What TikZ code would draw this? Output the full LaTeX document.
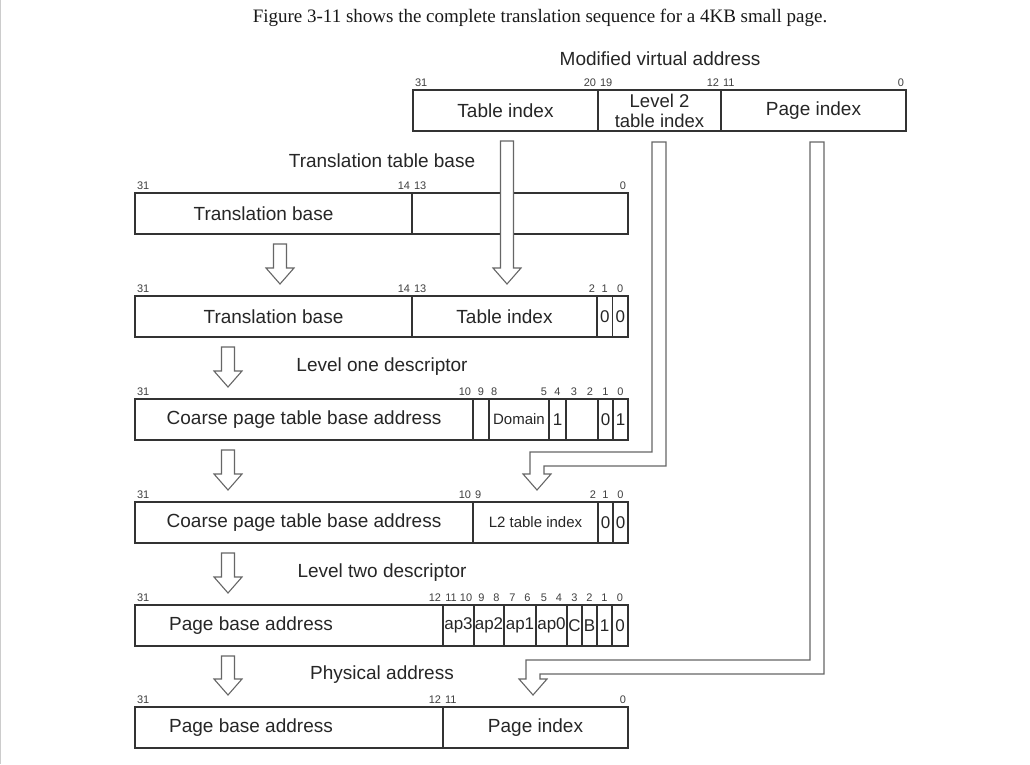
\documentclass[tikz,border=0pt]{standalone}
\usepackage{fontspec}
\setmainfont{Liberation Sans}
\newfontfamily\capfont{Liberation Serif}
\usetikzlibrary{calc}

% hollow arrow straight down: from below #1 to just above #2
\newcommand\droparrow[2]{%
  \draw[hollow] let \p1=(#1), \p2=(#2) in
    (\x2-6.5pt,\y1-10pt) -- (\x2+6.5pt,\y1-10pt) -- (\x2+6.5pt,\y2+28pt)
    -- (\x2+14pt,\y2+28pt) -- (\x2,\y2+12pt) -- (\x2-14pt,\y2+28pt)
    -- (\x2-6.5pt,\y2+28pt) -- cycle;}
% hollow arrow down, left at the height of #2, then down to #3
\newcommand\bentarrow[3]{%
  \draw[hollow] let \p1=(#1), \p2=(#2), \p3=(#3) in
    (\x1-7pt,\y1-11pt) -- (\x1+7pt,\y1-11pt) -- (\x1+7pt,\y2-7pt) -- (\x3+7pt,\y2-7pt)
    -- (\x3+7pt,\y3+28pt) -- (\x3+14pt,\y3+28pt) -- (\x3,\y3+12pt) -- (\x3-14pt,\y3+28pt)
    -- (\x3-7pt,\y3+28pt) -- (\x3-7pt,\y2+7pt) -- (\x1-7pt,\y2+7pt) -- cycle;}
% bit numbers over a field
\newcommand\bitl[2]{\node[bitno, anchor=south west] (#1-#2) at (#1.north west) {#2};}
\newcommand\bitr[2]{\node[bitno, anchor=south east] (#1-#2) at (#1.north east) {#2};}
\newcommand\bitc[3][0pt]{\node[bitno, anchor=south, xshift=#1] (#2-#3) at (#2.north) {#3};}

\begin{document}
\begin{tikzpicture}[
    x=1pt, y=-1pt,
    field/.style={draw=black!80, line width=1.3pt, minimum height=41pt, inner sep=0pt, outer sep=0pt,
      anchor=west, text=black!85, font=\fontsize{19}{21}\selectfont},
    bitbox/.style={field, font=\fontsize{17}{19}\selectfont},
    smallbox/.style={field, font=\fontsize{15}{17}\selectfont},
    bitno/.style={inner xsep=1.8pt, inner ysep=3pt, text=black!75, font=\fontsize{11}{12}\selectfont},
    heading/.style={inner sep=0pt, text=black!85, font=\fontsize{19}{21}\selectfont},
    every label/.style={text=black!85, font=\fontsize{19}{21}\selectfont},
    hollow/.style={draw=black!60, line width=1.1pt, fill=white, line join=miter}
  ]
  \useasboundingbox (0,0) rectangle (1030,764);
  \fill[white] (0,0) rectangle (1030,764);
  \draw[black!20, line width=1pt] (0.5,0) -- (0.5,764);

  \node[inner sep=0pt, text=black!90, font=\capfont\fontsize{19}{21}\selectfont] (caption) at (540,18)
    {Figure 3-11 shows the complete translation sequence for a 4KB small page.};

  % modified virtual address
  \node[heading] (mvahead) at (660,59) {Modified virtual address};
  \node[field, minimum width=185pt] (vti) at (413,110.5) {Table index};
  \node[field, minimum width=123pt, align=center, font=\fontsize{18.5}{20}\selectfont] (vl2) at (vti.east) {Level 2\\table index};
  \node[field, minimum width=185pt] (vpi) at (vl2.east) {Page index};
  \bitl{vti}{31} \bitr{vti}{20} \bitl{vl2}{19} \bitr{vl2}{12} \bitl{vpi}{11} \bitr{vpi}{0}

  % translation table base
  \node[heading] (ttbhead) at (382,161) {Translation table base};
  \node[field, minimum width=277pt, label={[xshift=-10pt]center:Translation base}] (tb1) at (135,213.5) {};
  \node[field, minimum width=216pt] (tbx1) at (tb1.east) {};
  \bitl{tb1}{31} \bitr{tb1}{14} \bitl{tbx1}{13} \bitr{tbx1}{0}

  % level one descriptor address
  \node[field, minimum width=277pt] (tb2) at (135,316.5) {Translation base};
  \node[field, minimum width=185pt] (ti2) at (tb2.east) {Table index};
  \node[bitbox, minimum width=15.5pt] (b2one) at (ti2.east) {0};
  \node[bitbox, minimum width=15.5pt] (b2zero) at (b2one.east) {0};
  \bitl{tb2}{31} \bitr{tb2}{14} \bitl{ti2}{13} \bitr{ti2}{2} \bitc{b2one}{1} \bitc{b2zero}{0}

  % level one descriptor
  \node[heading] (l1head) at (382,367) {Level one descriptor};
  \node[field, minimum width=338pt] (cb3) at (135,419.5) {Coarse page table base address};
  \node[bitbox, minimum width=16pt] (b3nine) at (cb3.east) {};
  \node[smallbox, minimum width=60pt] (dom3) at (b3nine.east) {Domain};
  \node[bitbox, minimum width=17pt] (b3four) at (dom3.east) {1};
  \node[bitbox, minimum width=32pt] (b3sbz) at (b3four.east) {};
  \node[bitbox, minimum width=15pt] (b3one) at (b3sbz.east) {0};
  \node[bitbox, minimum width=15pt] (b3zero) at (b3one.east) {1};
  \bitl{cb3}{31} \bitr{cb3}{10} \bitc{b3nine}{9} \bitl{dom3}{8} \bitr{dom3}{5}
  \bitc{b3four}{4} \bitc[-8pt]{b3sbz}{3} \bitc[8pt]{b3sbz}{2} \bitc{b3one}{1} \bitc{b3zero}{0}

  % level two descriptor address
  \node[field, minimum width=338pt] (cb4) at (135,522.5) {Coarse page table base address};
  \node[smallbox, minimum width=125pt] (l2i4) at (cb4.east) {L2 table index};
  \node[bitbox, minimum width=15pt] (b4one) at (l2i4.east) {0};
  \node[bitbox, minimum width=15pt] (b4zero) at (b4one.east) {0};
  \bitl{cb4}{31} \bitr{cb4}{10} \bitl{l2i4}{9} \bitr{l2i4}{2} \bitc{b4one}{1} \bitc{b4zero}{0}

  % level two descriptor
  \node[heading] (l2head) at (382,573) {Level two descriptor};
  \node[field, minimum width=308pt, label={[xshift=-38pt]center:Page base address}] (pb5) at (135,625.5) {};
  \node[bitbox, minimum width=31pt] (ap3) at (pb5.east) {ap3};
  \node[bitbox, minimum width=30pt] (ap2) at (ap3.east) {ap2};
  \node[bitbox, minimum width=32pt] (ap1) at (ap2.east) {ap1};
  \node[bitbox, minimum width=31pt] (ap0) at (ap1.east) {ap0};
  \node[bitbox, minimum width=15pt] (cbit) at (ap0.east) {C};
  \node[bitbox, minimum width=15pt] (bbit) at (cbit.east) {B};
  \node[bitbox, minimum width=15pt] (b5one) at (bbit.east) {1};
  \node[bitbox, minimum width=16pt] (b5zero) at (b5one.east) {0};
  \bitl{pb5}{31} \bitr{pb5}{12}
  \bitc[-7.5pt]{ap3}{11} \bitc[7.5pt]{ap3}{10} \bitc[-7.5pt]{ap2}{9} \bitc[7.5pt]{ap2}{8}
  \bitc[-7.5pt]{ap1}{7} \bitc[7.5pt]{ap1}{6} \bitc[-7.5pt]{ap0}{5} \bitc[7.5pt]{ap0}{4}
  \bitc{cbit}{3} \bitc{bbit}{2} \bitc{b5one}{1} \bitc{b5zero}{0}

  % physical address
  \node[heading] (pahead) at (382,675) {Physical address};
  \node[field, minimum width=308pt, label={[xshift=-38pt]center:Page base address}] (pb6) at (135,727.5) {};
  \node[field, minimum width=185pt] (pi6) at (pb6.east) {Page index};
  \bitl{pb6}{31} \bitr{pb6}{12} \bitl{pi6}{11} \bitr{pi6}{0}

  % arrows
  \coordinate (bendA) at (0,459);
  \coordinate (bendB) at (0,667);
  \droparrow{tb1.south}{[xshift=6.5pt]tb2.north}
  \droparrow{vti.south}{[xshift=2.5pt]ti2.north}
  \droparrow{tb2.south}{[xshift=-76pt]cb3.north}
  \droparrow{cb3.south}{[xshift=-76pt]cb4.north}
  \droparrow{cb4.south}{[xshift=-61pt]pb5.north}
  \droparrow{pb5.south}{[xshift=-61pt]pb6.north}
  \bentarrow{[xshift=-0.5pt]vl2.south}{bendA}{[xshift=1.5pt]l2i4.north}
  \bentarrow{[xshift=3.5pt]vpi.south}{bendB}{[xshift=-2.5pt]pi6.north}
\end{tikzpicture}
\end{document}
